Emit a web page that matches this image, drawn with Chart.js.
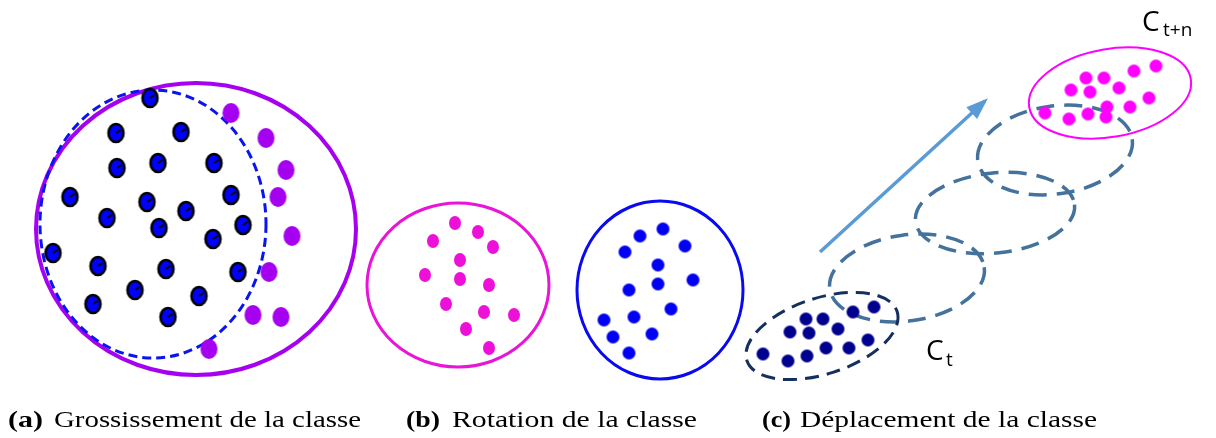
<!DOCTYPE html>
<html>
<head>
<meta charset="utf-8">
<script src="https://cdn.jsdelivr.net/npm/chart.js@4.4.1/dist/chart.umd.min.js"></script>
<style>
  html, body { margin: 0; padding: 0; background: #fff; }
</style>
</head>
<body>
<canvas id="fig" width="1216" height="438"></canvas>
<script>
// panel (a) : class growth
const growOld = [[150,98],[116,133],[181,132],[117,168],[158,163],[214,163],[70,197],[147,202],[231,195],
  [107,218],[186,211],[159,228],[243,225],[213,239],[53,253],[98,266],[166,269],[238,272],[135,290],
  [199,296],[93,304],[168,317]];
const growNew = [[231,113],[266,138],[286,170],[278,197],[292,236],[269,272],[253,315],[281,317],[209,349]];

// panel (b) : class rotation
const rotBefore = [[455,223],[478,232],[433,241],[493,247],[460,260],[425,275],[460,279],[489,285],
  [446,304],[484,312],[514,315],[466,329],[489,348]];
const rotAfter = [[640,236],[663,229],[625,252],[685,246],[658,265],[693,280],[658,284],[629,290],
  [671,309],[634,317],[604,320],[613,337],[652,334],[629,353]];

// panel (c) : class displacement
const moveStart = [[874,307],[853,312],[806,319],[823,319],[790,332],[809,333],[838,329],[868,340],
  [763,354],[807,356],[826,348],[849,348],[788,361]];
const moveEnd = [[1086,78],[1104,78],[1134,71],[1156,66],[1071,90],[1090,92],[1119,88],[1149,98],
  [1107,107],[1130,107],[1045,113],[1069,119],[1088,114],[1106,117]];
const arrowPath = [[820,252],[985,101]];

// class envelopes: cx, cy, rx, ry, angle (deg)
const envA = [[196,229,160,146,0]];
const envAold = [[153,224,113,134,0]];
const envB1 = [[458,285,91,82,0]];
const envB2 = [[660,290,83,89,0]];
const envCstart = [[822,336,79,38,-18]];
const envCpath = [[907,278,78,43,-8],[995,213,80,40,-6],[1055,150,78,44,-8]];
const envCend = [[1110,93,82,44,-10]];

// caption: tag, text, tag start/end, text start/end (px)
const captions = [
  ['(a)', 'Grossissement de la classe', 8, 43, 54, 361],
  ['(b)', 'Rotation de la classe', 406, 440, 452, 697],
  ['(c)', 'Déplacement de la classe', 762, 791, 800, 1097]
];

const pts = arr => arr.map(p => ({ x: p[0], y: p[1] }));

function dotImg(fill, rx, ry, stroke) {
  const c = document.createElement('canvas');
  c.width = Math.ceil(2 * rx + 6); c.height = Math.ceil(2 * ry + 6);
  const g = c.getContext('2d');
  g.beginPath();
  g.ellipse(c.width / 2, c.height / 2, rx, ry, 0, 0, Math.PI * 2);
  g.fillStyle = fill; g.fill();
  if (stroke) {
    g.lineWidth = 2.6; g.strokeStyle = stroke; g.stroke();
    g.beginPath();
    g.moveTo(c.width / 2, c.height / 2);
    g.lineTo(c.width / 2 + rx * 0.6, c.height / 2 - ry * 0.35);
    g.lineWidth = 2; g.stroke();
  }
  return c;
}

const shapes = [
  { list: envA, color: '#a600f0', width: 4, dash: [] },
  { list: envAold, color: '#0a14f0', width: 3, dash: [9, 5] },
  { list: envB1, color: '#ea14d8', width: 3, dash: [] },
  { list: envB2, color: '#0a0af0', width: 3, dash: [] },
  { list: envCpath, color: '#44729c', width: 3.5, dash: [18, 10] },
  { list: envCstart, color: '#15305f', width: 3, dash: [14, 8] },
  { list: envCend, color: '#ff00ff', width: 2, dash: [] }
];

const figPlugin = {
  id: 'fig',
  beforeDatasetsDraw(chart) {
    const { ctx, scales: { x, y } } = chart;
    shapes.forEach(s => {
      s.list.forEach(e => {
        const cx = x.getPixelForValue(e[0]), cy = y.getPixelForValue(e[1]);
        const rx = Math.abs(x.getPixelForValue(e[0] + e[2]) - cx);
        const ry = Math.abs(y.getPixelForValue(e[1] + e[3]) - cy);
        ctx.save();
        ctx.beginPath();
        ctx.ellipse(cx, cy, rx, ry, e[4] * Math.PI / 180, 0, Math.PI * 2);
        ctx.strokeStyle = s.color; ctx.lineWidth = s.width;
        ctx.setLineDash(s.dash);
        ctx.stroke();
        ctx.restore();
      });
    });
  },
  afterDatasetsDraw(chart) {
    const { ctx, scales: { x, y } } = chart;
    // arrow head
    const a = arrowPath[0], b = arrowPath[1];
    const x0 = x.getPixelForValue(a[0]), y0 = y.getPixelForValue(a[1]);
    const x1 = x.getPixelForValue(b[0]), y1 = y.getPixelForValue(b[1]);
    const ang = Math.atan2(y1 - y0, x1 - x0);
    ctx.save();
    ctx.fillStyle = '#5b9bd5';
    ctx.beginPath();
    ctx.moveTo(x1 + 4 * Math.cos(ang), y1 + 4 * Math.sin(ang));
    ctx.lineTo(x1 - 18 * Math.cos(ang) + 8 * Math.sin(ang), y1 - 18 * Math.sin(ang) - 8 * Math.cos(ang));
    ctx.lineTo(x1 - 18 * Math.cos(ang) - 8 * Math.sin(ang), y1 - 18 * Math.sin(ang) + 8 * Math.cos(ang));
    ctx.closePath();
    ctx.fill();

    // cluster labels
    ctx.fillStyle = '#000';
    ctx.textBaseline = 'alphabetic';
    ctx.font = '28px "Open Sans", sans-serif';
    ctx.fillText('C', 1142, 31);
    ctx.fillText('C', 926, 360);
    ctx.font = '19px "Open Sans", sans-serif';
    ctx.fillText('t+n', 1163, 36);
    ctx.fillText('t', 946, 366);

    // captions
    captions.forEach(c => {
      ctx.font = 'bold 23px "Liberation Serif", serif';
      let w = ctx.measureText(c[0]).width;
      ctx.save();
      ctx.translate(c[2], 427);
      ctx.scale((c[3] - c[2]) / w, 1);
      ctx.fillText(c[0], 0, 0);
      ctx.restore();
      ctx.font = '23px "Liberation Serif", serif';
      w = ctx.measureText(c[1]).width;
      ctx.save();
      ctx.translate(c[4], 427);
      ctx.scale((c[5] - c[4]) / w, 1);
      ctx.fillText(c[1], 0, 0);
      ctx.restore();
    });
    ctx.restore();
  }
};

const dotSet = (data, style, color, r) => ({
  data: pts(data),
  pointStyle: style,
  pointRadius: r,
  pointBackgroundColor: color,
  pointBorderWidth: 0,
  showLine: false
});

new Chart(document.getElementById('fig'), {
  type: 'scatter',
  data: {
    datasets: [
      dotSet(growNew, dotImg('#a600f0', 8.5, 10), '#a600f0', 9),
      dotSet(growOld, dotImg('#0000ff', 7.5, 9, '#000'), '#0000ff', 8),
      dotSet(rotBefore, dotImg('#ec10d8', 6, 7), '#ec10d8', 6),
      dotSet(rotAfter, dotImg('#0000f5', 6.5, 6.5), '#0000f5', 6),
      dotSet(moveStart, dotImg('#00008f', 6.5, 6.5), '#00008f', 6),
      dotSet(moveEnd, dotImg('#ff00ff', 6.5, 6.5), '#ff00ff', 6),
      {
        data: pts(arrowPath),
        showLine: true,
        borderColor: '#5b9bd5',
        borderWidth: 3.5,
        pointRadius: 0
      }
    ]
  },
  options: {
    responsive: false,
    animation: false,
    clip: false,
    layout: { padding: 0, autoPadding: false },
    plugins: { legend: { display: false }, tooltip: { enabled: false } },
    scales: {
      x: { type: 'linear', min: 0, max: 1216, display: false },
      y: { type: 'linear', min: 0, max: 438, reverse: true, display: false }
    }
  },
  plugins: [figPlugin]
});
</script>
</body>
</html>
